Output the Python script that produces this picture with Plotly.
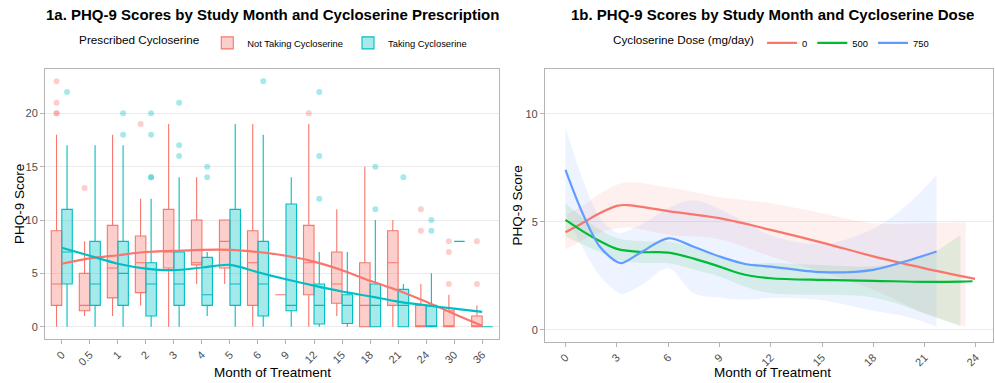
import plotly.graph_objects as go

# ---------------- Panel 1a data ----------------
months = ["0", "0.5", "1", "2", "3", "4", "5", "6", "9", "12", "15", "18", "21", "24", "30", "36"]

# Not Taking Cycloserine (box statistics per month)
nt_low = [0, 1, 1, 2, 0, 4, 4, 0, 3, 0, 1, 0, 0, 0, 0, 0]
nt_q1 = [2, 1.5, 2.7, 3.2, 5.5, 5.8, 5.5, 2, 3, 3, 2.2, 0, 2, 0, 0, 0]
nt_med = [4, 2, 5.5, 6, 7, 6, 8, 6, 3, 6, 4, 2, 6, 0, 0, 0]
nt_q3 = [9, 5, 9.5, 8.5, 11, 10, 10, 9, 3, 9.5, 7, 6, 9, 2, 1.5, 1]
nt_high = [18, 8, 18, 12, 19, 14, 10, 19, 3, 19, 11, 15, 10, 4, 3, 2]
nt_out_month = ["0", "0", "0", "0", "0.5", "2", "12", "24", "24", "30", "30", "30", "36", "36"]
nt_out_val = [20, 20, 21, 23, 13, 19, 20, 11, 9, 8, 7, 4, 8, 4]
nt_smooth = [5.9, 6.4, 6.7, 7.0, 7.1, 7.2, 7.2, 7.0, 6.65, 6.1, 5.3, 4.3, 3.4, 2.35, 1.2, 0.1]

# Taking Cycloserine
tk_low = [0, 0, 0, 0, 0, 1, 0, 0, 0, 0, 0, 0, 0, 0, 8, 0]
tk_q1 = [4, 2, 2, 1, 2, 2, 2, 1, 1.5, 0.25, 0.3, 0, 0, 0, 8, 0]
tk_med = [7, 4, 5, 4, 4, 3, 4, 4, 2, 2, 2, 2, 2, 0, 8, 0]
tk_q3 = [11, 8, 8, 6, 7, 6.5, 11, 8, 11.5, 4, 3, 4, 3.5, 2, 8, 0]
tk_high = [17, 17, 17, 12, 14, 7, 19, 18, 14, 7, 7, 10, 4, 5, 8, 0]
tk_out_month = ["0", "1", "1", "2", "2", "2", "2", "3", "3", "3", "4", "4", "6",
                "12", "12", "12", "18", "18", "21", "24", "24"]
tk_out_val = [22, 20, 18, 20, 18, 14, 14, 21, 17, 16, 15, 14, 23,
              22, 16, 12, 15, 11, 14, 10, 9]
tk_smooth = [7.4, 6.65, 5.9, 5.45, 5.3, 5.55, 5.8, 5.1, 4.45, 3.85, 3.3, 2.85, 2.35, 2.0, 1.7, 1.4]

# ---------------- Panel 1b data ----------------
d0_x = [0, 1, 2, 3, 3.6, 6, 9, 12, 15, 18, 21, 23.95]
d0_y = [4.52, 4.95, 5.4, 5.74, 5.78, 5.5, 5.17, 4.63, 4.04, 3.4, 2.85, 2.36]
d0_rx = [0, 1, 2, 3.5, 6, 9, 12, 15, 18, 21, 23.4]
d0_up = [5.32, 5.75, 6.3, 6.82, 6.6, 6.15, 5.86, 5.4, 4.94, 4.94, 4.98]
d0_lo = [3.72, 4.15, 4.5, 4.74, 4.4, 4.2, 3.4, 2.68, 1.86, 0.76, 0.15]

d500_x = [0, 1, 2, 3, 4.5, 6, 7.5, 9, 10.5, 12, 15, 18, 21, 23.1, 23.8]
d500_y = [5.09, 4.57, 4.11, 3.75, 3.6, 3.58, 3.3, 2.93, 2.55, 2.39, 2.31, 2.27, 2.22, 2.23, 2.25]
d500_rx = [0, 1, 2, 3, 4.5, 6, 7.5, 9, 10.5, 12, 15, 18, 21, 23.1]
d500_up = [5.86, 5.2, 4.65, 4.25, 4.1, 4.09, 3.8, 3.4, 3.1, 3.09, 3.0, 2.95, 3.39, 4.4]
d500_lo = [4.32, 3.95, 3.6, 3.25, 3.1, 3.08, 2.8, 2.47, 2.0, 1.7, 1.62, 1.5, 0.77, 0.15]

d750_x = [0, 1, 2, 3, 3.3, 4.5, 6, 7.5, 9, 10.5, 12, 15, 18, 20, 21.7]
d750_y = [7.41, 5.4, 3.86, 3.15, 3.09, 3.63, 4.24, 3.85, 3.4, 3.05, 2.93, 2.67, 2.78, 3.2, 3.63]
d750_up = [9.41, 7.0, 5.2, 4.5, 4.5, 4.9, 5.63, 6.0, 5.6, 5.0, 4.38, 3.97, 4.68, 5.8, 7.18]
d750_lo = [5.41, 3.8, 2.5, 1.75, 1.65, 2.1, 2.85, 1.7, 1.5, 1.4, 1.48, 1.37, 0.88, 0.6, 0.15]

# ---------------- styling ----------------
RED, TEAL = "#F8766D", "#00BFC4"
GREEN, BLUE = "#00BA38", "#619CFF"
FONT = "Liberation Sans"
DODGE = 0.1875
BOXW = 0.375


def rgba(hexc, a):
    h = hexc.lstrip("#")
    return "rgba(%d,%d,%d,%.3f)" % (int(h[0:2], 16), int(h[2:4], 16), int(h[4:6], 16), a)


idx = {m: i for i, m in enumerate(months)}
fig = go.Figure()

for name, col, sign, lo, q1, med, q3, hi in [
    ("Not Taking Cycloserine", RED, -1, nt_low, nt_q1, nt_med, nt_q3, nt_high),
    ("Taking Cycloserine", TEAL, 1, tk_low, tk_q1, tk_med, tk_q3, tk_high),
]:
    fig.add_trace(go.Box(
        x=[i + sign * DODGE for i in range(len(months))],
        q1=q1, median=med, q3=q3, lowerfence=lo, upperfence=hi,
        width=BOXW, whiskerwidth=0, boxpoints=False,
        fillcolor=rgba(col, 0.35), line=dict(color=col, width=1.1),
        name=name, legend="legend", xaxis="x", yaxis="y", hoverinfo="skip",
    ))

for col, sign, om, ov in [(RED, -1, nt_out_month, nt_out_val), (TEAL, 1, tk_out_month, tk_out_val)]:
    fig.add_trace(go.Scatter(
        x=[idx[m] + sign * DODGE for m in om], y=ov, mode="markers",
        marker=dict(color=rgba(col, 0.35), size=6, line=dict(width=0)),
        showlegend=False, xaxis="x", yaxis="y",
    ))

for col, ys in [(RED, nt_smooth), (TEAL, tk_smooth)]:
    fig.add_trace(go.Scatter(
        x=list(range(len(months))), y=ys, mode="lines",
        line=dict(color=col, width=2.2, shape="spline", smoothing=0.9),
        showlegend=False, xaxis="x", yaxis="y",
    ))

# ribbons
for col, rx, up, lo in [(RED, d0_rx, d0_up, d0_lo), (GREEN, d500_rx, d500_up, d500_lo),
                        (BLUE, d750_x, d750_up, d750_lo)]:
    fig.add_trace(go.Scatter(x=rx, y=lo, mode="lines", line=dict(width=0, shape="spline"),
                             showlegend=False, xaxis="x2", yaxis="y2", hoverinfo="skip"))
    fig.add_trace(go.Scatter(x=rx, y=up, mode="lines", line=dict(width=0, shape="spline"),
                             fill="tonexty", fillcolor=rgba(col, 0.11),
                             showlegend=False, xaxis="x2", yaxis="y2", hoverinfo="skip"))

for name, col, xs, ys in [("0", RED, d0_x, d0_y), ("500", GREEN, d500_x, d500_y),
                          ("750", BLUE, d750_x, d750_y)]:
    fig.add_trace(go.Scatter(x=xs, y=ys, mode="lines", name=name,
                             line=dict(color=col, width=2.2, shape="spline", smoothing=0.9),
                             legend="legend2", xaxis="x2", yaxis="y2"))

axis_common = dict(
    showline=True, mirror=True, linecolor="#B3B3B3", linewidth=1,
    ticks="outside", ticklen=4, tickcolor="#B3B3B3",
    tickfont=dict(family=FONT, size=11, color="#4D4D4D"),
    zeroline=False, automargin=False,
)

title_font = dict(family=FONT, size=15, color="black")
axt_font = dict(family=FONT, size=13.5, color="black")

fig.update_layout(
    template="none",
    width=995, height=383,
    margin=dict(l=0, r=0, t=0, b=0),
    paper_bgcolor="white", plot_bgcolor="white",
    font=dict(family=FONT, color="black"),
    showlegend=True,
    hovermode=False,
    xaxis=dict(domain=[0.0452, 0.5015], anchor="y", range=[-0.6, 15.6],
               tickmode="array", tickvals=list(range(len(months))), ticktext=months,
               tickangle=-45, showgrid=False, **axis_common),
    yaxis=dict(domain=[0.1149, 0.8198], anchor="x", range=[-1.15, 24.15],
               tickvals=[0, 5, 10, 15, 20], showgrid=True, gridcolor="#EBEBEB", gridwidth=1,
               **axis_common),
    xaxis2=dict(domain=[0.5477, 0.998], anchor="y2", range=[-1.2, 25.0],
                tickvals=[0, 3, 6, 9, 12, 15, 18, 21, 24], tickangle=-45, showgrid=False,
                **axis_common),
    yaxis2=dict(domain=[0.1078, 0.8198], anchor="x2", range=[-0.55, 12.08],
                tickvals=[0, 5, 10], showgrid=True, gridcolor="#EBEBEB", gridwidth=1,
                **axis_common),
    legend=dict(orientation="h", x=0.276, xanchor="center", y=0.888, yanchor="middle",
                traceorder="normal",
                title=dict(text="Prescribed Cycloserine", font=dict(size=11.7), side="left"),
                font=dict(size=9.4), itemwidth=30, bgcolor="rgba(0,0,0,0)"),
    legend2=dict(orientation="h", x=0.7764, xanchor="center", y=0.888, yanchor="middle",
                 traceorder="normal",
                 title=dict(text="Cycloserine Dose (mg/day)", font=dict(size=11.7), side="left"),
                 font=dict(size=9.4), itemwidth=30, bgcolor="rgba(0,0,0,0)"),
    annotations=[
        dict(text="<b>1a. PHQ-9 Scores by Study Month and Cycloserine Prescription</b>",
             x=0.2734, y=0.961, xref="paper", yref="paper", showarrow=False,
             xanchor="center", yanchor="middle", font=title_font),
        dict(text="<b>1b. PHQ-9 Scores by Study Month and Cycloserine Dose</b>",
             x=0.7764, y=0.961, xref="paper", yref="paper", showarrow=False,
             xanchor="center", yanchor="middle", font=title_font),
        dict(text="Month of Treatment", x=0.2734, y=0.0287, xref="paper", yref="paper",
             showarrow=False, xanchor="center", yanchor="middle", font=axt_font),
        dict(text="Month of Treatment", x=0.7759, y=0.0287, xref="paper", yref="paper",
             showarrow=False, xanchor="center", yanchor="middle", font=axt_font),
        dict(text="PHQ-9 Score", x=0.019, y=0.467, xref="paper", yref="paper", textangle=-90,
             showarrow=False, xanchor="center", yanchor="middle", font=axt_font),
        dict(text="PHQ-9 Score", x=0.5196, y=0.4637, xref="paper", yref="paper", textangle=-90,
             showarrow=False, xanchor="center", yanchor="middle", font=axt_font),
    ],
)

fig.write_html("out.html", config={"displayModeBar": False},
               post_script="document.body.style.margin='0';document.body.style.overflow='hidden';")
